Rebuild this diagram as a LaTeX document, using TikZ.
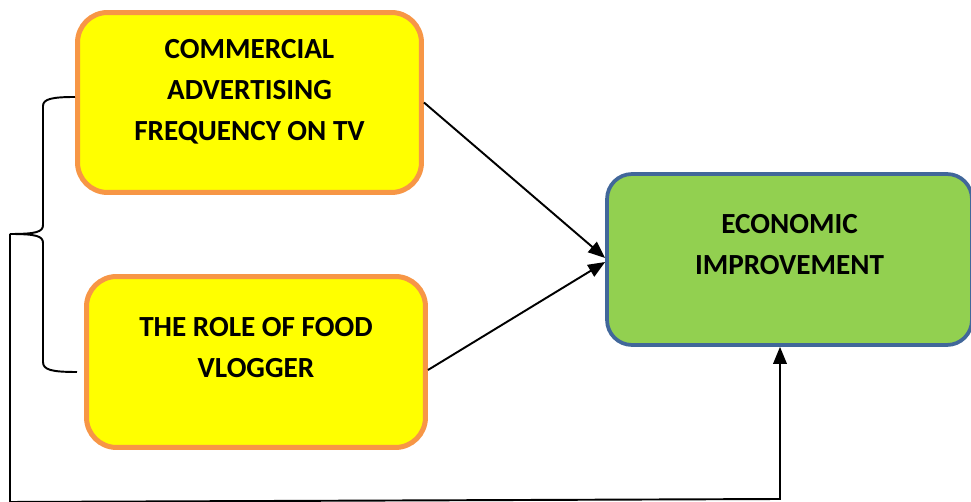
\documentclass[tikz,border=0pt]{standalone}
\usepackage{fontspec}
\setmainfont{Carlito}
\usepackage{tikz}
\usetikzlibrary{arrows.meta}
\definecolor{boxyellow}{HTML}{FFFF00}
\definecolor{boxorange}{HTML}{F79646}
\definecolor{boxgreen}{HTML}{92D050}
\definecolor{boxblue}{HTML}{41679A}

\begin{document}
\begin{tikzpicture}[x=0.02cm, y=-0.02cm,
        ybox/.style={draw=boxorange, fill=boxyellow, line width=0.1cm, rounded corners=0.6cm},
        gbox/.style={draw=boxblue, fill=boxgreen, line width=0.075cm, rounded corners=0.5cm},
        txt/.style={align=center, font={\fontsize{16.6}{23.3}\selectfont\bfseries}},
        link/.style={line width=1.1pt, -{Triangle[length=0.34cm, width=0.27cm]}}]
        \useasboundingbox (0,0) rectangle (971,502);
        % boxes
        \node[ybox, minimum width=6.88cm, minimum height=3.6cm] (adv) at (249.5,102.5) {};
        \node[ybox, minimum width=6.78cm, minimum height=3.42cm] (vlog) at (256,362) {};
        \node[gbox, minimum width=7.3cm, minimum height=3.42cm] (econ) at (789.5,259.5) {};
        \node[txt] (advtxt) at (249.5,92) {COMMERCIAL\\ADVERTISING\\FREQUENCY ON TV};
        \node[txt] (vlogtxt) at (256,347.5) {THE ROLE OF FOOD\\VLOGGER};
        \node[txt] (econtxt) at (789.5,244.5) {ECONOMIC\\IMPROVEMENT};
        % brace and feedback line
        \coordinate (bt) at (75,97);
        \coordinate (bb) at (77,372);
        \coordinate (tip) at (10,234);
        \coordinate (corner) at (10,502);
        \coordinate (up) at (780,499);
        \draw[line width=1.1pt] (bt) .. controls (52,97) and (43,99) .. (43,106) -- (43,225)
            .. controls (43,232) and (36,234) .. (tip) .. controls (36,234) and (43,236) .. (43,243)
            -- (43,362) .. controls (43,370) and (52,372) .. (bb);
        % arrows
        \draw[link] (adv.east) -- ([yshift=0.03cm]econ.west);
        \draw[link] ([yshift=-0.16cm]vlog.east) -- ([yshift=-0.05cm]econ.west);
        \draw[link] (tip) -- (corner) -- (up) -- ([xshift=-0.19cm]econ.south);
    \end{tikzpicture}
\end{document}
